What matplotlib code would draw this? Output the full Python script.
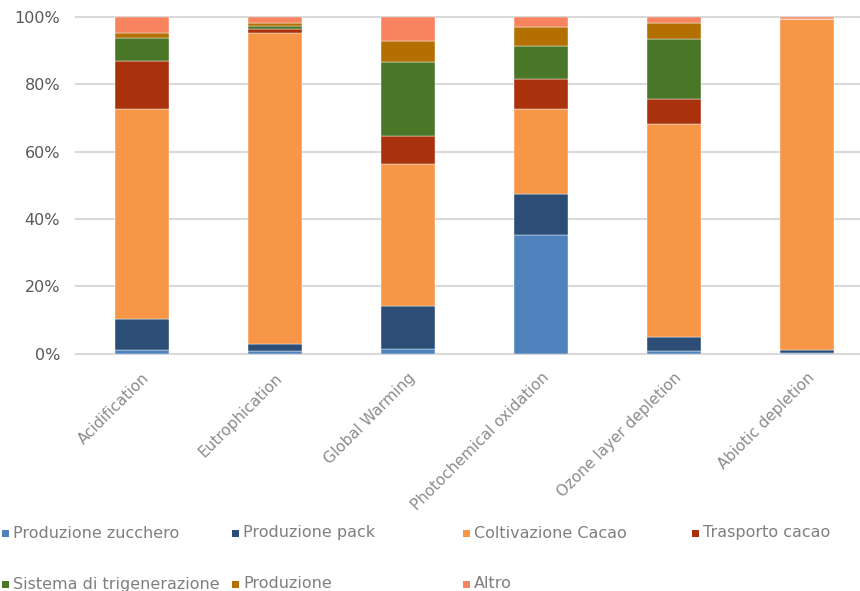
import matplotlib
matplotlib.use("Agg")
import matplotlib.pyplot as plt
from matplotlib.patches import Rectangle
import numpy as np

categories = ["Acidification", "Eutrophication", "Global Warming",
              "Photochemical oxidation", "Ozone layer depletion", "Abiotic depletion"]

series_names = ["Produzione zucchero", "Produzione pack", "Coltivazione Cacao",
                "Trasporto cacao", "Sistema di trigenerazione", "Produzione", "Altro"]

produzione_zucchero = [1.0, 0.8, 1.25, 35.2, 0.8, 0.1]
produzione_pack = [9.2, 2.0, 12.9, 12.3, 4.1, 1.0]
coltivazione_cacao = [62.6, 92.4, 42.2, 25.1, 63.3, 98.3]
trasporto_cacao = [14.0, 1.2, 8.4, 8.9, 7.3, 0.0]
sistema_trigenerazione = [7.1, 1.0, 22.0, 10.0, 18.0, 0.0]
produzione = [1.2, 0.8, 6.0, 5.6, 4.8, 0.0]
altro = [4.9, 1.8, 7.25, 2.9, 1.7, 0.6]

yticks = [0, 20, 40, 60, 80, 100]
ytick_labels = ["0%", "20%", "40%", "60%", "80%", "100%"]

colors = ["#4f81bd", "#2c4d75", "#f79646", "#a9310b", "#4a7628", "#b37000", "#f7845e"]

W, H = 860, 591
fig = plt.figure(figsize=(W / 100, H / 100), dpi=100)
plt.rcParams['font.family'] = ['DejaVu Sans']

ax_left, ax_right = 75.5, 873.5
ax_top, ax_bot = 17.0, 353.5
ax = fig.add_axes([ax_left / W, (H - ax_bot) / H, (ax_right - ax_left) / W, (ax_bot - ax_top) / H])

all_series = [produzione_zucchero, produzione_pack, coltivazione_cacao, trasporto_cacao,
              sistema_trigenerazione, produzione, altro]
x = np.arange(len(categories))
bottom = np.zeros(len(categories))
for name, vals, c in zip(series_names, all_series, colors):
    vals = np.array(vals, dtype=float)
    ax.bar(x, vals, width=0.4, bottom=bottom, color=c, edgecolor="white",
           linewidth=0.3, zorder=3, label=name)
    bottom += vals

ax.set_xlim(-0.5, len(categories) - 0.5)
ax.set_ylim(0, 100)
ax.set_yticks(yticks)
ax.set_yticklabels(ytick_labels)
ax.set_xticks(x)
ax.set_xticklabels(categories, rotation=45, ha="right", va="top", rotation_mode="anchor")
for s in ax.spines.values():
    s.set_visible(False)
ax.grid(axis="y", color="#d9d9d9", linewidth=1.5, zorder=0)
ax.set_axisbelow(True)
ax.tick_params(axis="y", length=0, pad=11, labelsize=11.5, labelcolor="#595959")
ax.tick_params(axis="x", length=0, pad=12, labelsize=11, labelcolor="#8c8c8c")
for gl in ax.get_ygridlines():
    gl.set_clip_on(False)

# legend, laid out in equal-width columns like the original
col_x = [2, 232, 463, 692]
row_y = [533, 584]
for i, (name, c) in enumerate(zip(series_names, colors)):
    r, col = divmod(i, 4)
    px, py = col_x[col], row_y[r]
    fig.patches.append(Rectangle((px / W, (H - py - 3.5) / H), 7 / W, 7 / H,
                                 transform=fig.transFigure, facecolor=c, edgecolor="none"))
    fig.text((px + 11) / W, (H - py) / H, name, fontsize=11.5, color="#7f7f7f",
             ha="left", va="center")

fig.savefig("out.png", dpi=100)
